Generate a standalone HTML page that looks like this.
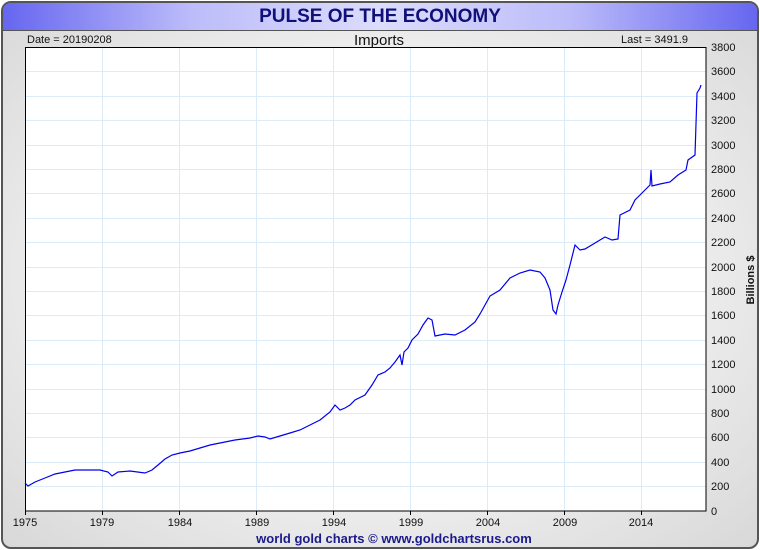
<!DOCTYPE html>
<html><head><meta charset="utf-8"><style>
body{margin:0;width:760px;height:550px;overflow:hidden;background:#fff;font-family:"Liberation Sans",sans-serif}
.frame{position:absolute;left:1px;top:1px;width:754px;height:544px;border:2px solid #555;border-radius:10px;background:radial-gradient(ellipse at center,#f8f8f8 0%,#ececec 60%,#d8d8d8 100%);overflow:hidden}
.hdr{position:absolute;left:0;top:0;width:754px;height:27px;background:linear-gradient(90deg,#6666f0 0%,#bcbcfa 25%,#dcdcfc 50%,#bcbcfa 75%,#6666f0 100%);border-bottom:1px solid #555}
.title{position:absolute;left:0;width:754px;top:3px;text-align:center;color:#10107a;font-weight:bold;font-size:19px}
</style></head><body>
<div class="frame"><div class="hdr"><div class="title">PULSE OF THE ECONOMY</div></div></div>
<svg width="760" height="550" style="position:absolute;left:0;top:0" font-family="Liberation Sans, sans-serif">
<rect x="25" y="47" width="681" height="464" fill="#fff"/>
<g stroke="#dcebf8" stroke-width="1">
<line x1="102.5" y1="47" x2="102.5" y2="511"/><line x1="179.5" y1="47" x2="179.5" y2="511"/><line x1="256.5" y1="47" x2="256.5" y2="511"/><line x1="333.5" y1="47" x2="333.5" y2="511"/><line x1="410.5" y1="47" x2="410.5" y2="511"/><line x1="487.5" y1="47" x2="487.5" y2="511"/><line x1="564.5" y1="47" x2="564.5" y2="511"/><line x1="641.5" y1="47" x2="641.5" y2="511"/>
<line x1="25" y1="486.5" x2="706" y2="486.5"/><line x1="25" y1="462.5" x2="706" y2="462.5"/><line x1="25" y1="437.5" x2="706" y2="437.5"/><line x1="25" y1="413.5" x2="706" y2="413.5"/><line x1="25" y1="389.5" x2="706" y2="389.5"/><line x1="25" y1="364.5" x2="706" y2="364.5"/><line x1="25" y1="340.5" x2="706" y2="340.5"/><line x1="25" y1="315.5" x2="706" y2="315.5"/><line x1="25" y1="291.5" x2="706" y2="291.5"/><line x1="25" y1="267.5" x2="706" y2="267.5"/><line x1="25" y1="242.5" x2="706" y2="242.5"/><line x1="25" y1="218.5" x2="706" y2="218.5"/><line x1="25" y1="193.5" x2="706" y2="193.5"/><line x1="25" y1="169.5" x2="706" y2="169.5"/><line x1="25" y1="145.5" x2="706" y2="145.5"/><line x1="25" y1="120.5" x2="706" y2="120.5"/><line x1="25" y1="96.5" x2="706" y2="96.5"/><line x1="25" y1="71.5" x2="706" y2="71.5"/>
</g>
<rect x="25.5" y="47.5" width="680.5" height="463.5" fill="none" stroke="#000" stroke-width="1"/>
<polyline fill="none" stroke="#0000ee" stroke-width="1.2" points="25,483 28,486 35,482 45,478 55,474 65,472 75,470 90,470 100,470 108,472 112,476 118,472 130,471 145,473 152,470 158,465 165,459 172,455 180,453 190,451 200,448 210,445 220,443 235,440 250,438 258,436 265,437 270,439 280,436 290,433 300,430 310,425 320,420 330,412 335,405 340,410 345,408 350,405 355,400 365,395 372,385 378,375 385,372 390,368 395,362 400,355 402,365 404,352 408,348 412,340 418,334 423,325 428,318 432,320 435,336 445,334 455,335 465,330 475,322 480,314 485,305 490,296 500,290 510,278 520,273 530,270 540,272 545,278 550,290 553,310 556,314 558,305 562,292 566,280 570,265 575,245 580,250 585,249 595,243 605,237 612,240 618,239 620,215 630,210 635,200 640,195 645,190 650,185 651,170 652,186 660,184 670,182 678,175 686,170 688,160 695,155 697,93 700,88 701,85"/>
<g stroke="#000"><line x1="25.5" y1="511" x2="25.5" y2="515"/><line x1="102.5" y1="511" x2="102.5" y2="515"/><line x1="179.5" y1="511" x2="179.5" y2="515"/><line x1="256.5" y1="511" x2="256.5" y2="515"/><line x1="333.5" y1="511" x2="333.5" y2="515"/><line x1="410.5" y1="511" x2="410.5" y2="515"/><line x1="487.5" y1="511" x2="487.5" y2="515"/><line x1="564.5" y1="511" x2="564.5" y2="515"/><line x1="641.5" y1="511" x2="641.5" y2="515"/></g>
<g font-size="11" fill="#111" text-anchor="middle">
<text x="25" y="526">1975</text><text x="102" y="526">1979</text><text x="180" y="526">1984</text><text x="257" y="526">1989</text><text x="334" y="526">1994</text><text x="411" y="526">1999</text><text x="488" y="526">2004</text><text x="565" y="526">2009</text><text x="641" y="526">2014</text>
</g>
<g font-size="11" fill="#111">
<text x="711" y="515">0</text><text x="711" y="490">200</text><text x="711" y="466">400</text><text x="711" y="441">600</text><text x="711" y="417">800</text><text x="711" y="393">1000</text><text x="711" y="368">1200</text><text x="711" y="344">1400</text><text x="711" y="319">1600</text><text x="711" y="295">1800</text><text x="711" y="271">2000</text><text x="711" y="246">2200</text><text x="711" y="222">2400</text><text x="711" y="197">2600</text><text x="711" y="173">2800</text><text x="711" y="149">3000</text><text x="711" y="124">3200</text><text x="711" y="100">3400</text><text x="711" y="75">3600</text><text x="711" y="51">3800</text>
</g>
<text x="754" y="280" font-size="11" font-weight="bold" fill="#111" text-anchor="middle" transform="rotate(-90 754 280)">Billions $</text>
<text x="27" y="43" font-size="11" fill="#111">Date = 20190208</text>
<text x="379" y="45" font-size="15" fill="#111" text-anchor="middle">Imports</text>
<text x="688" y="43" font-size="11" fill="#111" text-anchor="end">Last = 3491.9</text>
<text x="394" y="543" font-size="13" font-weight="bold" fill="#1a1a8a" text-anchor="middle">world gold charts © www.goldchartsrus.com</text>
</svg>
</body></html>
